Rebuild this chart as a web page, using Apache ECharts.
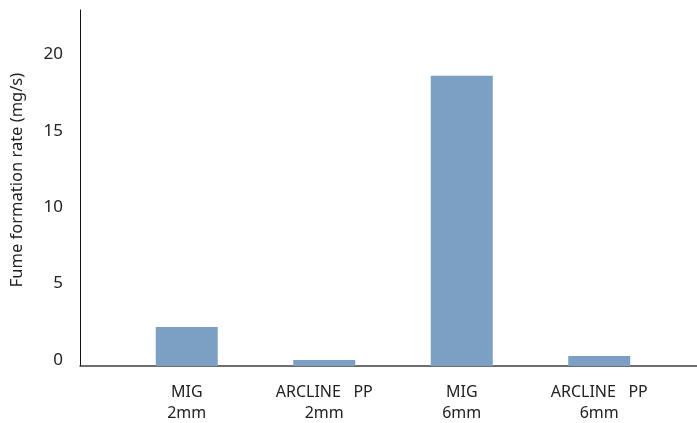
<!DOCTYPE html>
<html><head><meta charset="utf-8">
<script src="https://cdn.jsdelivr.net/npm/echarts@6/dist/echarts.min.js"></script>
<style>html,body{margin:0;padding:0;background:#fff}#c{width:697px;height:423px}</style>
</head><body><div id="c"></div>
<script>
const categories = ['MIG\n2mm', 'ARCLINE   PP\n2mm', 'MIG\n6mm', 'ARCLINE   PP\n6mm'];
const values = [2.55, 0.39, 19.0, 0.65];
const yTicks = [0, 5, 10, 15, 20];
const yTitle = 'Fume formation rate (mg/s)';
const FONT = 'Noto Sans';
const yMax = 23.3;

const chart = echarts.init(document.getElementById('c'));
chart.setOption({
  animation: false,
  backgroundColor: '#fff',
  textStyle: {fontFamily: FONT},
  grid: [
    {left: 80, right: 0, top: 10, bottom: 57, outerBoundsMode: 'none', containLabel: false},
    {left: 118, right: 29, top: 10, bottom: 57, outerBoundsMode: 'none', containLabel: false}
  ],
  xAxis: [
    {gridIndex: 0, type: 'value', min: 0, max: 1, axisLine: {show: true, onZero: false, lineStyle: {color: '#404040', width: 1.5}},
     axisTick: {show: false}, axisLabel: {show: false}, splitLine: {show: false}},
    {gridIndex: 1, type: 'category', data: categories, axisLine: {show: false}, axisTick: {show: false},
     axisLabel: {color: '#222', fontSize: 16, lineHeight: 21, margin: 16, fontFamily: FONT}}
  ],
  yAxis: [
    {gridIndex: 0, type: 'value', min: 0, max: yMax, interval: 5,
     axisLine: {show: true, lineStyle: {color: '#111', width: 1}}, axisTick: {show: false},
     splitLine: {show: false},
     axisLabel: {showMaxLabel: false, color: '#222', fontSize: 17, margin: 17, verticalAlign: 'bottom', lineHeight: 12,
       formatter: v => yTicks.includes(v) ? String(v) : ''},
     name: yTitle, nameLocation: 'middle', nameGap: 54, nameRotate: 90,
     nameTextStyle: {color: '#222', fontSize: 16.5, fontFamily: FONT, padding: [0, 0, 0, 16]}},
    {gridIndex: 1, type: 'value', min: 0, max: yMax, show: false, splitLine: {show: false}}
  ],
  series: [{
    type: 'bar', xAxisIndex: 1, yAxisIndex: 1, data: values, barWidth: 62,
    itemStyle: {color: '#7ba0c4', borderWidth: 0}
  }]
});
</script></body></html>
